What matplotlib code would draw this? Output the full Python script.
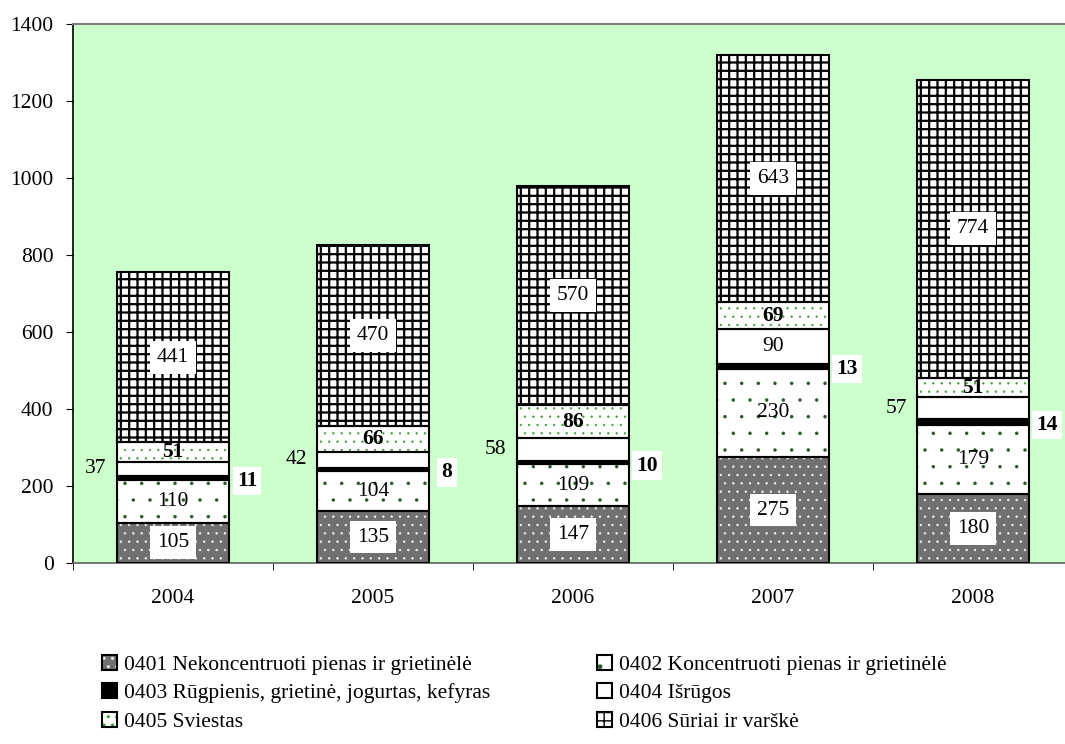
import matplotlib
matplotlib.use('Agg')
import matplotlib.pyplot as plt
import numpy as np
from matplotlib.legend_handler import HandlerTuple

years = ['2004', '2005', '2006', '2007', '2008']
v0401 = [105, 135, 147, 275, 180]
v0402 = [110, 104, 109, 230, 179]
v0403 = [11, 8, 10, 13, 14]
v0404 = [37, 42, 58, 90, 57]
v0405 = [51, 66, 86, 69, 51]
v0406 = [441, 470, 570, 643, 774]
names = ['0401 Nekoncentruoti pienas ir grietinėlė',
         '0402 Koncentruoti pienas ir grietinėlė',
         '0403 Rūgpienis, grietinė, jogurtas, kefyras',
         '0404 Išrūgos',
         '0405 Sviestas',
         '0406 Sūriai ir varškė']
yticks = [0, 200, 400, 600, 800, 1000, 1200, 1400]

plt.rcParams['font.family'] = ['Liberation Serif', 'DejaVu Serif']
FS = 15.5

fig = plt.figure(figsize=(10.65, 7.44), dpi=100)
ax = fig.add_axes([73/1065, 181/744, 1000/1065, 539/744])
ax.set_facecolor('#CCFFCC')

series = [v0401, v0402, v0403, v0404, v0405, v0406]
styles = [
    dict(face='#707070', hatch='..', hc='#f0f0f0', hlw=0.5),
    dict(face='white', hatch='.', hc='#2a5a2a', hlw=0.1),
    dict(face='black', hatch=None, hc='black', hlw=1.0),
    dict(face='white', hatch=None, hc='white', hlw=1.0),
    dict(face='white', hatch='..', hc='#30a030', hlw=0.4),
    dict(face='white', hatch='++', hc='black', hlw=1.6),
]
x = np.arange(len(years))
w = 0.56
bottom = np.zeros(len(years))
handles = []
bottoms = []
for vals, st in zip(series, styles):
    with plt.rc_context({'hatch.linewidth': st['hlw']}):
        b1 = ax.bar(x, vals, w, bottom=bottom, color=st['face'], hatch=st['hatch'],
                    edgecolor=st['hc'], linewidth=0, zorder=2)
        for p in b1:
            if hasattr(p, 'set_hatch_linewidth'):
                p.set_hatch_linewidth(st['hlw'])
    b2 = ax.bar(x, vals, w, bottom=bottom, fill=False, edgecolor='black',
                linewidth=1.5, zorder=3)
    handles.append((b1[0], b2[0]))
    bottoms.append(bottom.copy())
    bottom = bottom + np.array(vals)

box = dict(facecolor='white', edgecolor='none', pad=5)
for i in range(len(years)):
    # 0401
    c = bottoms[0][i] + v0401[i] / 2
    ax.text(x[i], c, str(v0401[i]), ha='center', va='center', fontsize=FS, bbox=box, zorder=5)
    # 0402
    c = bottoms[1][i] + v0402[i] / 2
    ax.text(x[i], c, str(v0402[i]), ha='center', va='center', fontsize=FS, zorder=5)
    # 0403
    c = bottoms[2][i] + v0403[i] / 2
    ax.annotate(str(v0403[i]), xy=(x[i] + w / 2, c), xytext=(18, -3), textcoords='offset pixels',
                ha='center', va='center', fontsize=FS, fontweight='bold',
                bbox=dict(facecolor='white', edgecolor='none', pad=3), zorder=5)
    # 0404
    c = bottoms[3][i] + v0404[i] / 2
    if years[i] == '2007':
        ax.text(x[i], c, str(v0404[i]), ha='center', va='center', fontsize=FS, zorder=5)
    else:
        ax.annotate(str(v0404[i]), xy=(x[i] - w / 2, c), xytext=(-21, 0), textcoords='offset pixels',
                    ha='center', va='center', fontsize=FS, zorder=5)
    # 0405
    c = bottoms[4][i] + v0405[i] / 2
    ax.text(x[i], c, str(v0405[i]), ha='center', va='center', fontsize=FS, fontweight='bold', zorder=5)
    # 0406
    c = bottoms[5][i] + v0406[i] / 2
    ax.text(x[i], c, str(v0406[i]), ha='center', va='center', fontsize=FS, bbox=box, zorder=5)

ax.set_xlim(-0.5, len(years) - 0.5)
ax.set_ylim(0, 1400)
ax.set_yticks(yticks)
ax.set_xticks(x)
ax.set_xticklabels(years)
ax.set_xticks(np.arange(len(years) + 1) - 0.5, minor=True)
ax.tick_params(axis='x', which='major', length=0, pad=19, labelsize=FS)
ax.tick_params(axis='x', which='minor', length=5, direction='out', color='black')
ax.tick_params(axis='y', length=5, direction='out', pad=9, labelsize=FS)
for s in ['top', 'right']:
    ax.spines[s].set_color('#808080')
    ax.spines[s].set_linewidth(1.5)
ax.spines['left'].set_color('black')
ax.spines['bottom'].set_color('#606060')
ax.spines['left'].set_linewidth(1.2)
ax.spines['bottom'].set_linewidth(1.2)

order = [0, 2, 4, 1, 3, 5]
fig.legend([handles[k] for k in order], [names[k] for k in order],
           handler_map={tuple: HandlerTuple(ndivide=1)},
           loc='upper left', bbox_to_anchor=(102/1065, 1 - 655/744), ncol=2, frameon=False,
           fontsize=FS, handlelength=0.7, handleheight=0.7, handletextpad=0.3,
           columnspacing=5.0, labelspacing=0.38, borderaxespad=0, borderpad=0)

fig.savefig('out.png', dpi=100)
